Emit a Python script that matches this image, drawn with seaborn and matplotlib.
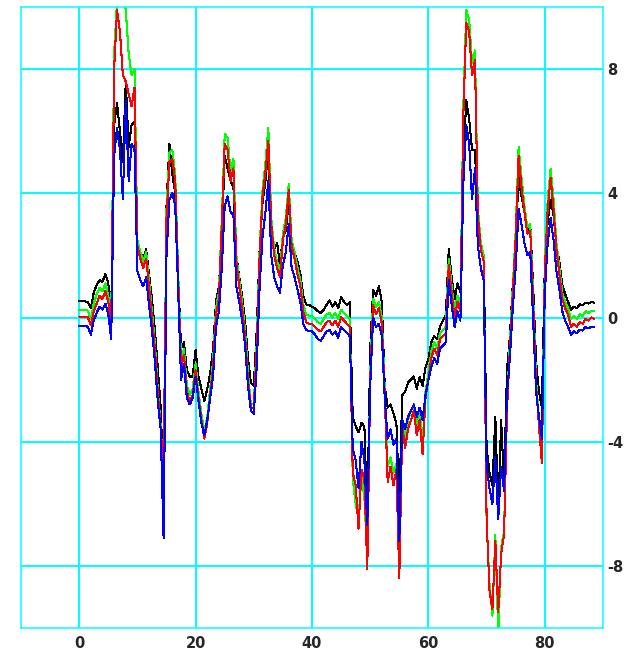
import numpy as np
import pandas as pd
import matplotlib
matplotlib.use("Agg")
import matplotlib.pyplot as plt
import seaborn as sns

red = [0.03, 0.03, 0.03, 0.0, -0.25, 0.2, 0.45, 0.7, 0.6, 0.85,
       0.5, -0.3, 8.0, 9.9, 9.2, 7.8, 7.6, 7.2, 6.8, 7.4,
       2.3, 1.9, 1.6, 1.9, 1.0, 0.0, -1.0, -2.4, -3.6, -4.9,
       3.2, 5.0, 5.1, 4.4, 1.3, -1.6, -1.2, -2.4, -2.7, -2.5,
       -1.7, -2.6, -3.3, -3.9, -3.4, -2.5, -1.6, 0.1, 0.6, 3.0,
       5.6, 5.4, 4.4, 4.8, 1.8, 1.0, 0.3, -0.6, -2.0, -2.9,
       -2.9, -1.0, 2.0, 3.9, 4.7, 5.7, 3.0, 2.0, 1.6, 1.3,
       2.5, 3.0, 4.1, 2.3, 1.9, 1.4, 1.0, 0.2, -0.15, -0.2,
       -0.2, -0.3, -0.4, -0.45, -0.3, -0.15, -0.1, -0.25, -0.1, -0.3,
       0.0, -0.1, -0.2, -0.3, -5.0, -5.4, -6.8, -4.9, -5.2, -8.1,
       -2.0, 0.4, 0.1, 0.3, -0.2, -2.5, -5.3, -4.8, -5.4, -4.9,
       -8.4, -3.5, -4.2, -3.6, -3.3, -3.0, -3.8, -3.3, -4.4, -2.6,
       -2.0, -1.3, -1.0, -1.2, -0.7, -0.6, -0.5, 1.7, 0.8, 0.0,
       0.5, 0.2, 6.5, 9.5, 9.2, 7.8, 8.3, 3.3, 2.2, 1.8,
       -6.5, -8.8, -9.4, -7.2, -9.5, -7.6, -7.0, -3.0, -1.0, 0.8,
       2.6, 5.2, 4.2, 3.4, 2.7, 2.8, 0.5, -2.2, -3.5, -4.7,
       1.5, 3.5, 4.5, 3.5, 2.2, 1.4, 0.6, 0.3, 0.1, -0.3,
       -0.2, -0.3, -0.15, -0.2, -0.05, -0.1, 0.0, -0.05]

black = [0.53, 0.53, 0.52, 0.5, 0.3, 0.8, 1.05, 1.2, 1.15, 1.4,
         1.1, 0.2, 6.2, 6.9, 6.0, 5.0, 7.6, 5.5, 6.2, 6.3,
         2.5, 2.1, 1.9, 2.2, 1.4, 0.6, -0.4, -1.6, -2.9, -5.5,
         3.6, 5.6, 4.6, 4.0, 1.4, -1.0, -0.8, -1.7, -1.9, -1.9,
         -1.05, -1.9, -2.3, -2.7, -2.3, -1.8, -1.0, 0.5, 1.0, 2.6,
         5.2, 4.8, 4.4, 4.2, 2.0, 1.3, 0.7, -0.1, -1.3, -2.1,
         -2.2, -0.4, 2.2, 3.7, 4.4, 5.4, 2.9, 2.2, 2.4, 1.7,
         2.6, 2.8, 3.7, 2.4, 2.1, 1.8, 1.4, 0.7, 0.42, 0.4,
         0.35, 0.3, 0.2, 0.15, 0.25, 0.4, 0.55, 0.35, 0.5, 0.3,
         0.65, 0.5, 0.4, 0.5, -3.2, -3.5, -3.7, -3.4, -3.5, -6.5,
         -1.0, 0.9, 0.7, 1.0, 0.5, -2.2, -2.9, -2.8, -3.1, -3.4,
         -6.0, -2.5, -2.4, -2.1, -2.0, -1.9, -2.3, -1.9, -2.2, -1.6,
         -1.35, -0.8, -0.6, -0.7, -0.3, -0.1, 0.1, 2.2, 1.3, 0.6,
         1.1, 0.8, 5.0, 7.0, 6.4, 5.4, 5.4, 3.1, 2.4, 2.0,
         -4.2, -5.0, -5.4, -3.2, -6.3, -3.3, -5.4, -1.7, -0.6, 1.1,
         2.5, 4.5, 3.9, 3.4, 2.8, 3.0, 1.0, -1.4, -2.4, -2.9,
         1.7, 3.1, 3.8, 3.3, 2.3, 1.8, 1.05, 0.75, 0.5, 0.25,
         0.35, 0.3, 0.42, 0.4, 0.48, 0.45, 0.5, 0.48]

green = [0.25, 0.25, 0.25, 0.22, -0.05, 0.45, 0.75, 0.95, 0.85, 1.1,
         0.7, -0.1, 8.5, 10.2, 10.3, 10.4, 9.9, 8.5, 7.8, 8.0,
         2.5, 2.1, 1.8, 2.1, 1.2, 0.2, -0.8, -2.3, -3.5, -5.0,
         3.5, 5.3, 5.4, 4.6, 1.5, -1.4, -1.0, -2.2, -2.5, -2.3,
         -1.5, -2.4, -3.1, -3.7, -3.2, -2.3, -1.4, 0.3, 0.8, 3.2,
         5.9, 5.8, 4.7, 5.1, 2.0, 1.2, 0.5, -0.4, -1.8, -2.8,
         -2.8, -0.8, 2.2, 4.1, 5.0, 6.1, 3.2, 2.2, 1.8, 1.5,
         2.7, 3.2, 4.3, 2.5, 2.1, 1.6, 1.2, 0.4, 0.1, 0.05,
         0.05, -0.05, -0.15, -0.2, -0.05, 0.1, 0.15, 0.0, 0.15, -0.05,
         0.25, 0.15, 0.05, -0.05, -5.2, -6.0, -6.5, -5.1, -5.8, -7.8,
         -1.8, 0.6, 0.35, 0.5, 0.0, -2.3, -4.8, -4.5, -5.0, -4.7,
         -8.0, -3.3, -3.9, -3.3, -3.0, -2.8, -3.5, -3.0, -4.1, -2.4,
         -1.8, -1.1, -0.8, -1.0, -0.5, -0.4, -0.3, 1.9, 1.0, 0.2,
         0.7, 0.4, 6.8, 9.9, 9.6, 8.2, 8.6, 3.5, 2.4, 2.0,
         -6.6, -8.6, -9.6, -7.0, -10.2, -7.4, -6.9, -2.8, -0.8, 1.0,
         2.8, 5.5, 4.5, 3.6, 2.9, 3.0, 0.7, -2.0, -3.3, -4.5,
         1.7, 3.8, 4.8, 3.8, 2.4, 1.6, 0.8, 0.5, 0.3, -0.05,
         0.05, -0.05, 0.1, 0.05, 0.2, 0.15, 0.22, 0.2]

blue = [-0.27, -0.27, -0.27, -0.3, -0.55, -0.1, 0.15, 0.35, 0.25, 0.45,
        0.1, -0.7, 5.2, 6.1, 5.4, 3.8, 7.0, 4.4, 5.6, 5.4,
        1.5, 1.2, 1.0, 1.3, 0.4, -0.4, -1.4, -2.7, -3.6, -7.1,
        2.0, 3.8, 4.0, 3.6, 0.9, -2.0, -1.5, -2.6, -2.8, -2.6,
        -1.9, -2.7, -3.4, -3.8, -3.3, -2.6, -1.9, -0.3, 0.2, 1.6,
        3.6, 3.9, 3.4, 3.3, 1.0, 0.5, -0.1, -0.9, -2.2, -3.0,
        -3.1, -1.6, 1.0, 2.6, 3.4, 4.4, 2.0, 1.3, 1.0, 0.8,
        1.7, 2.1, 3.0, 1.6, 1.3, 0.9, 0.5, -0.2, -0.4, -0.45,
        -0.45, -0.55, -0.7, -0.75, -0.6, -0.45, -0.4, -0.55, -0.45, -0.65,
        -0.3, -0.4, -0.5, -0.6, -4.2, -4.6, -5.5, -4.0, -4.6, -6.7,
        -2.2, 0.0, -0.3, -0.2, -0.6, -2.6, -3.9, -3.6, -4.1, -3.9,
        -7.2, -3.3, -3.6, -3.2, -3.0, -2.8, -3.2, -2.9, -3.3, -2.5,
        -2.0, -1.6, -1.3, -1.5, -1.0, -0.9, -0.8, 1.2, 0.4, -0.3,
        0.2, -0.1, 4.3, 6.2, 5.6, 3.8, 4.8, 2.3, 1.6, 1.2,
        -4.8, -5.5, -6.0, -4.5, -6.5, -4.8, -5.6, -2.5, -1.3, 0.3,
        1.6, 3.5, 3.0, 2.4, 2.0, 2.1, -0.1, -2.4, -3.2, -3.9,
        0.8, 2.4, 3.2, 2.5, 1.5, 0.9, 0.2, -0.1, -0.3, -0.55,
        -0.45, -0.5, -0.4, -0.42, -0.3, -0.35, -0.3, -0.32]

x = np.arange(len(red)) * 0.5

series_names = ["black", "green", "red", "blue"]
series_colors = {"black": "#000000", "green": "#00ff00", "red": "#ff0000", "blue": "#0000ff"}

x_ticks = [0, 20, 40, 60, 80]
y_ticks = [-8, -4, 0, 4, 8]

frames = []
for name, vals in zip(series_names, [black, green, red, blue]):
    frames.append(pd.DataFrame({"x": x, "value": vals, "series": name}))
df = pd.concat(frames, ignore_index=True)

sns.set_style("white")
plt.rcParams["font.family"] = ["DejaVu Sans"]
plt.rcParams["axes.unicode_minus"] = False

fig = plt.figure(figsize=(6.32, 6.52), dpi=100)
ax = fig.add_axes([21 / 632, 24 / 652, 582 / 632, 621 / 652])

sns.lineplot(data=df, x="x", y="value", hue="series", hue_order=series_names,
             palette=series_colors, estimator=None, sort=False, legend=False,
             linewidth=0.75, antialiased=False, ax=ax)

ax.set_xlim(-10, 90)
ax.set_ylim(-10, 10)
ax.set_xticks(x_ticks)
ax.set_yticks(y_ticks)
ax.set_xlabel("")
ax.set_ylabel("")
ax.grid(True, color="#00ffff", linewidth=1.1, antialiased=False)
ax.set_axisbelow(True)
for sp in ax.spines.values():
    sp.set_color("#00ffff")
    sp.set_linewidth(1.1)
ax.yaxis.tick_right()
ax.tick_params(axis="both", length=0, labelsize=10.5)
ax.tick_params(axis="x", pad=6)
ax.tick_params(axis="y", pad=3)
for lab in ax.get_xticklabels() + ax.get_yticklabels():
    lab.set_fontweight("bold")

fig.savefig("out.png", dpi=100)
